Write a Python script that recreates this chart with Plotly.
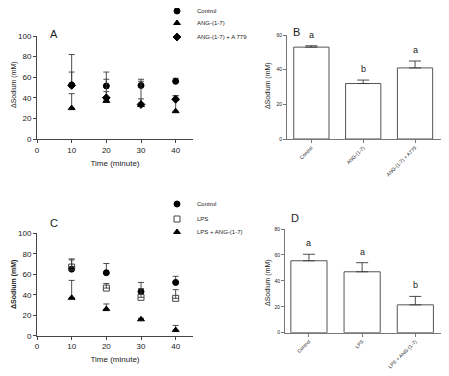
import plotly.graph_objects as go

# ---------------- data ----------------
time_min = [10, 20, 30, 40]

# Panel A
a_control = [52.5, 51.5, 52, 56]
a_control_err = [12.5, 13.5, 6, 3]
a_ang = [30, 37, 33, 27]
a_ang_err = [14, 9, 6, 15]
a_ang_a779 = [52, 40, 33.5, 38.5]
a_ang_a779_err = [30, 18, 22.5, 3.5]

# Panel B
b_categories = ["Control", "ANG-(1-7)", "ANG-(1-7) + A779"]
b_values = [53, 32, 41]
b_err = [0.8, 2, 4]
b_letters = ["a", "b", "a"]

# Panel C
c_control = [65, 61.5, 43, 52]
c_control_err = [10, 9, 9, 6]
c_lps = [67, 46.5, 37.5, 36.5]
c_lps_err = [7, 4.5, 8.5, 8.5]
c_lps_ang = [37, 26, 16, 5.5]
c_lps_ang_err = [17, 5, 1, 4.5]

# Panel D
d_categories = ["Control", "LPS", "LPS + ANG-(1-7)"]
d_values = [55.5, 47, 21.5]
d_err = [5, 7, 6.5]
d_letters = ["a", "a", "b"]

y_title = "ΔSodium (mM)"
x_title = "Time (minute)"

# ---------------- figure ----------------
PAGE_W, PAGE_H = 449, 376
BODY = 8  # default page body margin
W, H = PAGE_W - BODY, PAGE_H - BODY
FONT = "Arial, Liberation Sans, sans-serif"
AX = "#444444"
AX_BAR = "#777777"
ERR = "#3a3a3a"
TXT = "#222222"


def px_x(p):
    return (p - BODY) / W


def px_y(p):
    return 1 - (p - BODY) / H


fig = go.Figure()


def add_scatter(x, y, err, name, symbol, xa, ya, legend, fill="black"):
    fig.add_trace(go.Scatter(
        x=x, y=y, mode="markers", name=name,
        xaxis=xa, yaxis=ya, legend=legend,
        marker=dict(symbol=symbol, size=6, color=fill,
                    line=dict(color="black" if fill == "black" else "#444", width=1)),
        error_y=dict(type="data", array=err, arrayminus=[0] * len(err), symmetric=False,
                     color=ERR, thickness=0.9, width=3),
    ))


add_scatter(time_min, a_control, a_control_err, "Control", "circle", "x", "y", "legend")
add_scatter(time_min, a_ang, a_ang_err, "ANG-(1-7)", "triangle-up", "x", "y", "legend2")
add_scatter(time_min, a_ang_a779, a_ang_a779_err, "ANG-(1-7) + A 779", "diamond", "x", "y", "legend3")

add_scatter(time_min, c_control, c_control_err, "Control", "circle", "x3", "y3", "legend4")
add_scatter(time_min, c_lps, c_lps_err, "LPS", "square-open", "x3", "y3", "legend5", fill="#444")
add_scatter(time_min, c_lps_ang, c_lps_ang_err, "LPS + ANG-(1-7)", "triangle-up", "x3", "y3", "legend6")


def add_bars(cats, vals, err, xa, ya):
    fig.add_trace(go.Bar(
        x=cats, y=vals, xaxis=xa, yaxis=ya, showlegend=False, width=0.68,
        marker=dict(color="white", line=dict(color="#555", width=1)),
        error_y=dict(type="data", array=err, arrayminus=[0] * len(err), symmetric=False,
                     color=ERR, thickness=0.9, width=6),
    ))


add_bars(b_categories, b_values, b_err, "x2", "y2")
add_bars(d_categories, d_values, d_err, "x4", "y4")

for cats, vals, err, letters, xa, ya in [
    (b_categories, b_values, b_err, b_letters, "x2", "y2"),
    (d_categories, d_values, d_err, d_letters, "x4", "y4"),
]:
    for c, v, e, l in zip(cats, vals, err, letters):
        fig.add_annotation(x=c, y=v + e, xref=xa, yref=ya, text=l, showarrow=False,
                           yshift=11, font=dict(size=9, family=FONT, color=TXT))

axis_common = dict(showline=True, linecolor=AX, linewidth=1, ticks="outside",
                   ticklen=3, tickcolor=AX, showgrid=False, zeroline=False, automargin=False,
                   tickfont=dict(size=8, family=FONT, color=TXT))
bar_axis = dict(axis_common, linecolor=AX_BAR, tickcolor=AX_BAR,
                tickfont=dict(size=5, family=FONT, color=TXT))

time_axis = dict(axis_common, range=[0, 45], tickvals=[0, 10, 20, 30, 40],
                 title=dict(text=x_title, font=dict(size=8, family=FONT, color=TXT), standoff=6))


def legend_box(ypix):
    return dict(x=px_x(157), y=px_y(ypix), xanchor="left", yanchor="middle",
                bgcolor="rgba(0,0,0,0)", font=dict(size=6, family=FONT, color=TXT),
                itemwidth=30)


fig.update_layout(
    template="none",
    width=W, height=H, margin=dict(l=0, r=0, t=0, b=0, autoexpand=False),
    plot_bgcolor="white", paper_bgcolor="white",
    font=dict(family=FONT, color=TXT),
    xaxis=dict(time_axis, domain=[px_x(37), px_x(193)], anchor="y"),
    yaxis=dict(axis_common, domain=[px_y(139), px_y(36)], range=[0, 100],
               tickvals=[0, 20, 40, 60, 80, 100], anchor="x"),
    xaxis3=dict(time_axis, domain=[px_x(37), px_x(193)], anchor="y3"),
    yaxis3=dict(axis_common, domain=[px_y(335.7), px_y(233.3)], range=[0, 100],
                tickvals=[0, 20, 40, 60, 80, 100], anchor="x3"),
    xaxis2=dict(bar_axis, domain=[px_x(287), px_x(442)], range=[-0.47, 2.52], anchor="y2",
                tickangle=-45),
    yaxis2=dict(bar_axis, domain=[px_y(139), px_y(35)], range=[0, 60], tickvals=[0, 20, 40, 60],
                anchor="x2"),
    xaxis4=dict(bar_axis, domain=[px_x(285), px_x(443)], range=[-0.45, 2.52], anchor="y4",
                tickangle=-45),
    yaxis4=dict(bar_axis, domain=[px_y(332.7), px_y(229)], range=[0, 80], tickvals=[0, 20, 40, 60, 80],
                anchor="x4"),
    legend=legend_box(11),
    legend2=legend_box(23),
    legend3=legend_box(37),
    legend4=legend_box(204),
    legend5=legend_box(219),
    legend6=legend_box(232),
)

for label, x, y in [("A", 48, 26), ("B", 296, 24), ("C", 48, 223), ("D", 295, 218)]:
    fig.add_annotation(x=px_x(x), y=px_y(y), xref="paper", yref="paper", text=label,
                       showarrow=False, font=dict(size=11, family=FONT, color=TXT))

for text, x, y in [(y_title, 14, 85), (y_title, 268, 86),
                   ("<b>" + y_title + "</b>", 14, 285), (y_title, 268, 283)]:
    fig.add_annotation(x=px_x(x), y=px_y(y), xref="paper", yref="paper", text=text,
                       textangle=-90, showarrow=False, xanchor="center", yanchor="middle",
                       font=dict(size=7, family=FONT, color=TXT))

fig.write_html("out.html")
